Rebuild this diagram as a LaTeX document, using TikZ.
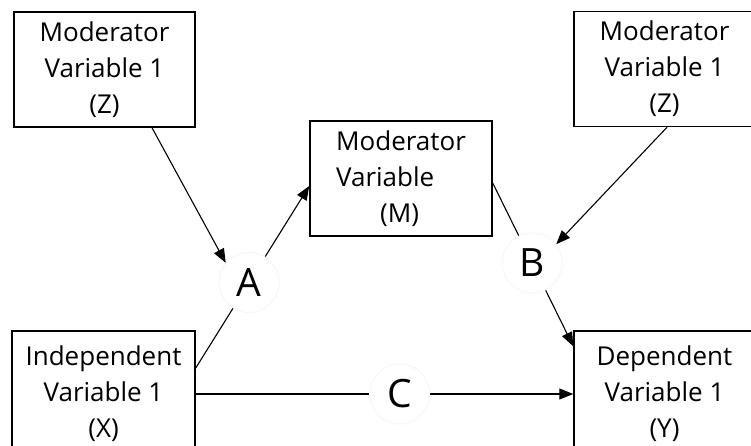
\documentclass[tikz,border=0pt]{standalone}
\usepackage{fontspec}
\setmainfont{Open Sans}
\usetikzlibrary{arrows.meta}
\begin{document}
\begin{tikzpicture}[x=1pt,y=-1pt,
  varbox/.style={draw, line width=1.5pt, minimum width=181pt, minimum height=115pt,
    align=center, inner sep=0pt, font=\fontsize{26}{36}\selectfont},
  link/.style={line width=1.1pt},
  arrowlink/.style={link, -{Triangle[length=14pt,width=11pt]}},
  pathlabel/.style={circle, fill=white, draw=black!3, minimum size=60pt,
    inner sep=0pt, font=\fontsize{39}{39}\selectfont}]
\clip (0,0) rectangle (751,445);
\fill[white] (0,0) rectangle (751,445);

% variable boxes
\node[varbox] (Z1) at (104.5,69.5) {Moderator\\Variable 1\\(Z)};
\node[varbox] (Z2) at (664.5,69) {Moderator\\Variable 1\\(Z)};
\node[varbox, minimum width=182pt, align=left] (M) at (401,178.5)
  {Moderator\\Variable\\\hspace*{44pt}(M)};
\node[varbox, minimum width=183pt, minimum height=126pt] (X) at (103.5,394)
  {Independent\\Variable 1\\(X)};
\node[varbox, minimum height=126pt] (Y) at (664.5,394)
  {Dependent\\Variable 1\\(Y)};

% paths A, B, C
\draw[arrowlink] ([yshift=26pt]X.east) -- node[pathlabel, pos=.47] (A) {A} ([yshift=-7.5pt]M.west);
\draw[arrowlink] ([xshift=47.5pt]Z1.south) -- (A.140);
\draw[arrowlink] ([yshift=-4.5pt]M.east) -- node[pathlabel, pos=.49] (B) {B} ([yshift=-16pt]Y.north west);
\draw[arrowlink] ([xshift=2.5pt]Z2.south) -- (B.38);
\draw[arrowlink] (X.east) -- node[pathlabel, pos=.54] (C) {C} (Y.west);
\end{tikzpicture}
\end{document}
